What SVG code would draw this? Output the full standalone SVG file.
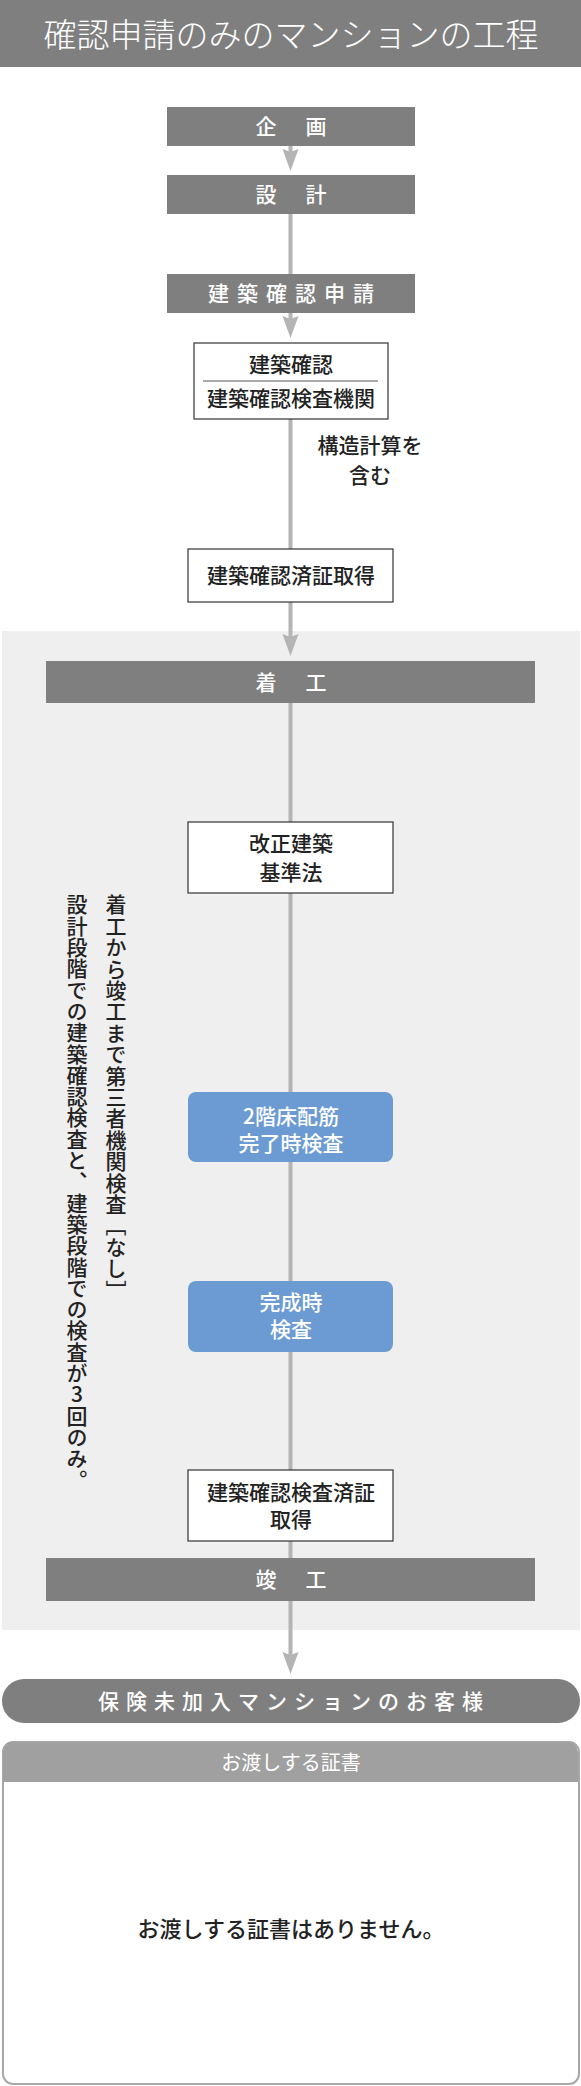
<svg xmlns="http://www.w3.org/2000/svg" width="581" height="2086" viewBox="0 0 581 2086">
<style>
text{font-family:"Noto Sans CJK JP","Noto Sans CJK SC",sans-serif;}
.bar{fill:#7f7f7f;}
.wt{fill:#ffffff;font-size:21px;text-anchor:middle;font-weight:500;}
.bk{fill:#222222;font-size:21px;text-anchor:middle;font-weight:500;}
.box{fill:#ffffff;stroke:#333333;stroke-width:1.2;}
.blue{fill:#6b9bd2;}
.ln{stroke:#b4b4b4;stroke-width:4;fill:none;}
.vt{fill:#222222;font-size:21px;font-weight:500;writing-mode:vertical-rl;text-orientation:upright;}
</style>
<defs>
<marker id="ah" viewBox="-4 -9 22 18" markerWidth="22" markerHeight="18" refX="0" refY="0" markerUnits="userSpaceOnUse" orient="auto">
<path d="M-1,0 L-4,-8 L18,0 L-4,8 Z" fill="#b4b4b4"/>
</marker>
</defs>
<rect width="581" height="2086" fill="#ffffff"/>
<g id="header">
<rect x="0" y="0" width="581" height="67" class="bar"/>
<text x="291" y="47" class="wt" style="font-size:33px;font-weight:300;">確認申請のみのマンションの工程</text>
</g>
<g id="section">
<rect x="2" y="631" width="578" height="999" fill="#efefef"/>
</g>
<g id="connectors">
<line x1="290.5" y1="146" x2="290.5" y2="153" class="ln" marker-end="url(#ah)"/>
<line x1="290.5" y1="214" x2="290.5" y2="274" class="ln"/>
<line x1="290.5" y1="313" x2="290.5" y2="320" class="ln" marker-end="url(#ah)"/>
<line x1="290.5" y1="419" x2="290.5" y2="549" class="ln"/>
<line x1="290.5" y1="602" x2="290.5" y2="638" class="ln" marker-end="url(#ah)"/>
<line x1="290.5" y1="703" x2="290.5" y2="822" class="ln"/>
<line x1="290.5" y1="893" x2="290.5" y2="1092" class="ln"/>
<line x1="290.5" y1="1162" x2="290.5" y2="1281" class="ln"/>
<line x1="290.5" y1="1352" x2="290.5" y2="1470" class="ln"/>
<line x1="290.5" y1="1541" x2="290.5" y2="1558" class="ln"/>
<line x1="290.5" y1="1601" x2="290.5" y2="1656" class="ln" marker-end="url(#ah)"/>
</g>
<g id="kikaku">
<rect x="167" y="107" width="248" height="39" class="bar"/>
<text x="293" y="134" class="wt" style="letter-spacing:4px;">企　画</text>
</g>
<g id="sekkei">
<rect x="167" y="175" width="248" height="39" class="bar"/>
<text x="293" y="202" class="wt" style="letter-spacing:4px;">設　計</text>
</g>
<g id="shinsei">
<rect x="167" y="274" width="248" height="39" class="bar"/>
<text x="295" y="301" class="wt" style="letter-spacing:8px;">建築確認申請</text>
</g>
<g id="kakunin">
<rect x="194" y="343" width="194" height="76" class="box"/>
<text x="291" y="372" class="bk">建築確認</text>
<line x1="203" y1="381" x2="378" y2="381" stroke="#555555" stroke-width="1"/>
<text x="291" y="406" class="bk">建築確認検査機関</text>
</g>
<g id="kozo">
<text x="370" y="453" class="bk"><tspan x="370" y="453">構造計算を</tspan><tspan x="370" y="483">含む</tspan></text>
</g>
<g id="sumisho">
<rect x="188" y="549" width="205" height="53" class="box"/>
<text x="291" y="583" class="bk">建築確認済証取得</text>
</g>
<g id="chakko">
<rect x="46" y="661" width="489" height="42" class="bar"/>
<text x="293" y="690" class="wt" style="letter-spacing:4px;">着　工</text>
</g>
<g id="kaisei">
<rect x="188" y="822" width="205" height="71" class="box"/>
<text x="291" y="851" class="bk"><tspan x="291" y="851">改正建築</tspan><tspan x="291" y="880">基準法</tspan></text>
</g>
<g id="haikin">
<rect x="188" y="1092" width="205" height="70" rx="8" class="blue"/>
<text x="291" y="1124" class="wt"><tspan x="291" y="1124">2階床配筋</tspan><tspan x="291" y="1151">完了時検査</tspan></text>
</g>
<g id="kansei">
<rect x="188" y="1281" width="205" height="71" rx="8" class="blue"/>
<text x="291" y="1310" class="wt"><tspan x="291" y="1310">完成時</tspan><tspan x="291" y="1337">検査</tspan></text>
</g>
<g id="kensazumi">
<rect x="188" y="1470" width="205" height="71" class="box"/>
<text x="291" y="1500" class="bk"><tspan x="291" y="1500">建築確認検査済証</tspan><tspan x="291" y="1527">取得</tspan></text>
</g>
<g id="shunko">
<rect x="46" y="1558" width="489" height="43" class="bar"/>
<text x="293" y="1587" class="wt" style="letter-spacing:4px;">竣　工</text>
</g>
<g id="note">
<text x="116" y="894" class="vt" style="letter-spacing:0.4px;">着工から竣工まで第三者機関検査［なし］</text>
<text x="77" y="894" class="vt" style="letter-spacing:0.3px;">設計段階での建築確認検査と、建築段階での検査が3回のみ。</text>
</g>
<g id="customer">
<rect x="2" y="1679" width="578" height="44" rx="22" class="bar"/>
<text x="294" y="1709" class="wt" style="letter-spacing:7px;">保険未加入マンションのお客様</text>
</g>
<g id="card">
<rect x="3" y="1742" width="576" height="342" rx="10" fill="#ffffff" stroke="#a8a8a8" stroke-width="2"/>
<path d="M3,1782 L3,1752 A10,10 0 0 1 13,1742 L568,1742 A10,10 0 0 1 578,1752 L578,1782 Z" fill="#a0a0a0"/>
<text x="291" y="1770" class="wt" style="font-size:20px;font-weight:400;">お渡しする証書</text>
<text x="291" y="1937" class="bk" style="font-size:22px;">お渡しする証書はありません。</text>
</g>
</svg>
